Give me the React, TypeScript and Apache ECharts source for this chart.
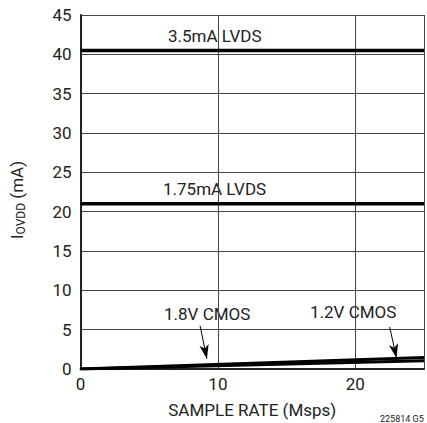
import React, { useEffect, useRef } from "react";
import * as echarts from "echarts";

const xRange = [0, 25];
const lvds35 = [40.5, 40.5];
const lvds175 = [21, 21];
const cmos18 = [0, 1.45];
const cmos12 = [0, 1.05];
const yTicks = [0, 5, 10, 15, 20, 25, 30, 35, 40, 45];
const xTicks = [0, 10, 20];

const FONT = "Roboto, 'Liberation Sans', sans-serif";

export default function App() {
  const ref = useRef<HTMLDivElement>(null);
  useEffect(() => {
    const chart = echarts.init(ref.current!, null, { renderer: "svg" });
    const mk = (vals: number[]) => xRange.map((x, i) => [x, vals[i]]);
    const lineStyle = { color: "#000", width: 3.5 };
    const txt = { font: `17px ${FONT}`, fill: "#222" };
    chart.setOption({
      animation: false,
      grid: { left: 78, right: -1, top: 15, bottom: 54 },
      xAxis: {
        type: "value",
        min: 0,
        max: 25,
        interval: 10,
        axisLine: { show: true, lineStyle: { color: "#222", width: 2 } },
        axisTick: { show: false },
        splitLine: { show: true, lineStyle: { color: "#444", width: 1 } },
        axisLabel: {
          color: "#222",
          fontFamily: FONT,
          fontSize: 17,
          margin: 6,
          formatter: (v: number) => (xTicks.includes(v) ? String(v) : ""),
        },
        name: "SAMPLE RATE (Msps)",
        nameLocation: "middle",
        nameGap: 32,
        nameTextStyle: { color: "#222", fontFamily: FONT, fontSize: 17 },
      },
      yAxis: {
        type: "value",
        min: 0,
        max: 45,
        interval: 5,
        axisLine: { show: true, lineStyle: { color: "#222", width: 2 } },
        axisTick: { show: false },
        splitLine: { show: true, lineStyle: { color: "#444", width: 1 } },
        axisLabel: {
          color: "#222",
          fontFamily: FONT,
          fontSize: 17,
          margin: 9,
          formatter: (v: number) => (yTicks.includes(v) ? String(v) : ""),
        },
        name: "{a|I}{b|OVDD}{a| (mA)}",
        nameLocation: "middle",
        nameGap: 54,
        nameTextStyle: {
          padding: [0, 16, 0, 0],
          rich: {
            a: { color: "#222", fontFamily: FONT, fontSize: 17 },
            b: { color: "#222", fontFamily: FONT, fontSize: 12, padding: [8, 0, 0, 0] },
          },
        },
      },
      series: [
        { type: "line", data: mk(lvds35), symbol: "none", lineStyle },
        { type: "line", data: mk(lvds175), symbol: "none", lineStyle },
        {
          type: "line",
          data: mk(cmos18),
          symbol: "none",
          lineStyle: { color: "#000", width: 3 },
          markLine: {
            silent: true,
            symbol: ["none", "arrow"],
            symbolSize: [7, 14],
            lineStyle: { color: "#000", width: 1, type: "solid" },
            label: { show: false },
            data: [
              [{ coord: [8.7, 5.5] }, { coord: [9.2, 1.3] }],
              [{ coord: [22.5, 5.35] }, { coord: [23.0, 1.4] }],
            ],
          },
        },
        { type: "line", data: mk(cmos12), symbol: "none", lineStyle: { color: "#000", width: 3 } },
      ],
      graphic: [
        { type: "text", left: 168, top: 27, style: { text: "3.5mA LVDS", ...txt } },
        { type: "text", left: 163, top: 180, style: { text: "1.75mA LVDS", ...txt } },
        { type: "text", left: 164, top: 305, style: { text: "1.8V CMOS", ...txt } },
        { type: "text", left: 310, top: 303, style: { text: "1.2V CMOS", ...txt } },
        { type: "text", left: 380, top: 414, style: { text: "225814 G5", font: `9px ${FONT}`, fill: "#222" } },
      ],
    });
    return () => chart.dispose();
  }, []);
  return <div ref={ref} style={{ width: 427, height: 423, position: "absolute", left: 0, top: 0, background: "#fff" }} />;
}
